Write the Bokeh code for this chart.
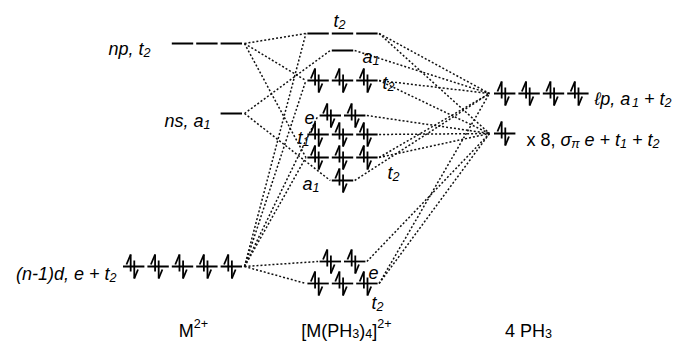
from bokeh.plotting import figure
from bokeh.models import Range1d, ColumnDataSource
from bokeh.embed import file_html
from bokeh.resources import INLINE
from bokeh.core.properties import value

# ---------------- data (energies on the diagram's vertical scale, larger = lower) -------------
left_names = ["np", "ns", "d"]
left_energy = [43, 113, 266]
left_degen = [3, 1, 5]
left_filled = [False, False, True]

mid_names = ["t2a", "a1a", "t2n", "e", "t1", "t2b", "a1b", "ed", "t2d"]
mid_energy = [33, 50, 80, 115, 134, 157, 180, 261, 283]
mid_degen = [3, 1, 3, 2, 3, 3, 1, 2, 3]
mid_filled = [False, False, True, True, True, True, True, True, True]

right_names = ["lp", "spi"]
right_energy = [93, 133]
right_degen = [4, 1]
right_filled = [True, True]

left_links = [("np", "t2a"), ("np", "t2n"), ("np", "t2b"),
              ("ns", "a1a"), ("ns", "a1b"),
              ("d", "t2a"), ("d", "t2n"), ("d", "e"), ("d", "t2b"), ("d", "ed"), ("d", "t2d")]
right_links = [("t2a", "lp"), ("t2a", "spi"), ("a1a", "lp"), ("t2n", "lp"), ("t2n", "spi"),
               ("e", "spi"), ("t1", "spi"), ("t2b", "lp"), ("t2b", "spi"), ("a1b", "lp"),
               ("ed", "spi"), ("t2d", "lp"), ("t2d", "spi")]

# ---------------- layout ----------------
ORB_W = 24.4
GAP = 3.0
LEFT_RIGHT_EDGE = 243.0
MID_CENTER = 342.0
RIGHT_LEFT_EDGE = 492.0
PW, PH = 672, 341

p = figure(width=PW, height=PH, x_range=Range1d(0, PW), y_range=Range1d(PH, 0),
           output_backend="svg", toolbar_location=None, min_border=0,
           x_axis_type=None, y_axis_type=None)
p.grid.visible = False
p.outline_line_color = None
p.background_fill_color = "white"
p.border_fill_color = "white"

ends = {}
lev_x0, lev_x1, lev_y = [], [], []
arr = dict(x0=[], y0=[], x1=[], y1=[])


def add_levels(names, energies, degens, filled, align):
    for n, e, g, f in zip(names, energies, degens, filled):
        w = g * ORB_W
        if align == "right":
            start = LEFT_RIGHT_EDGE - w
        elif align == "center":
            start = MID_CENTER - w / 2
        else:
            start = RIGHT_LEFT_EDGE
        ends[n] = (start, start + w, e)
        for i in range(g):
            a = start + i * ORB_W + GAP / 2
            b = start + (i + 1) * ORB_W - GAP / 2
            lev_x0.append(a); lev_x1.append(b); lev_y.append(e)
            if f:
                cx = start + i * ORB_W + 0.45 * ORB_W
                segs = [
                    (cx - 1.8, e + 5, cx - 1.8, e - 12),
                    (cx - 1.8, e - 12, cx - 6, e - 2),
                    (cx + 1.8, e - 6, cx + 1.8, e + 12),
                    (cx + 1.8, e + 12, cx + 5.5, e + 3),
                ]
                for s in segs:
                    arr["x0"].append(s[0]); arr["y0"].append(s[1])
                    arr["x1"].append(s[2]); arr["y1"].append(s[3])


add_levels(left_names, left_energy, left_degen, left_filled, "right")
add_levels(mid_names, mid_energy, mid_degen, mid_filled, "center")
add_levels(right_names, right_energy, right_degen, right_filled, "left")

# correlation lines
lk = dict(x0=[], y0=[], x1=[], y1=[])
for a, b in left_links:
    lk["x0"].append(ends[a][1] + 1); lk["y0"].append(ends[a][2])
    lk["x1"].append(ends[b][0]); lk["y1"].append(ends[b][2])
for a, b in right_links:
    lk["x0"].append(ends[a][1]); lk["y0"].append(ends[a][2])
    lk["x1"].append(ends[b][0] - 3); lk["y1"].append(ends[b][2])

p.segment("x0", "y0", "x1", "y1", source=ColumnDataSource(lk), line_color="#111111",
          line_width=1.5, line_dash="2 2")
p.segment(lev_x0, lev_y, lev_x1, lev_y, line_color="black", line_width=1.8)
p.segment("x0", "y0", "x1", "y1", source=ColumnDataSource(arr), line_color="black", line_width=1.8)

# ---------------- labels ----------------
WID = {' ': 278, ',': 278, '(': 333, ')': 333, '-': 333, '+': 584, '[': 278, ']': 278,
       'a': 556, 'd': 556, 'e': 556, 'n': 556, 'p': 556, 's': 500, 't': 278, 'x': 500,
       'M': 833, 'P': 667, 'H': 722, 'ℓ': 420, 'σ': 600, 'π': 640}
FS = 18.0
txt = dict(x=[], y=[], text=[], size=[], style=[])


def label(x, y, runs, anchor="left", fs=FS, sub_dy=4):
    items = []
    total = 0.0
    for t, kind, it in runs:
        s = fs if kind == "n" else fs * 0.7
        w = sum(WID.get(c, 556) for c in t) / 1000 * s
        items.append((t, kind, it, s, w))
        total += w
    if anchor == "right":
        x -= total
    elif anchor == "center":
        x -= total / 2
    for t, kind, it, s, w in items:
        dy = 0 if kind == "n" else (sub_dy if kind == "b" else -7)
        lead = len(t) - len(t.lstrip(" "))
        xs = x + lead * WID[' '] / 1000 * s
        body = t.strip(" ")
        if body:
            txt["x"].append(xs); txt["y"].append(y + dy); txt["text"].append(body)
            txt["size"].append("%.1fpx" % s); txt["style"].append("italic" if it else "normal")
        x += w


I = True
label(150, 48, [("np, t", "n", I), ("2", "b", I)], "right")
label(210, 120, [("ns, a", "n", I), ("1", "b", I)], "right")
label(116, 273, [("(n-1)d, e + t", "n", I), ("2", "b", I)], "right")
label(193, 330, [("M", "n", False), ("2+", "p", False)], "center")
label(346, 330, [("[M(PH", "n", False), ("3", "b", False), (")", "n", False), ("4", "b", False),
                 ("]", "n", False), ("2+", "p", False)], "center", sub_dy=3)
label(528, 330, [("4 PH", "n", False), ("3", "b", False)], "center", sub_dy=3)

label(333, 20, [("t", "n", I), ("2", "b", I)])
label(362, 56, [("a", "n", I), ("1", "b", I)])
label(382, 82, [("t", "n", I), ("2", "b", I)])
label(304, 117, [("e", "n", I)])
label(297, 137, [("t", "n", I), ("1", "b", I)])
label(387, 172, [("t", "n", I), ("2", "b", I)])
label(302, 183, [("a", "n", I), ("1", "b", I)])
label(368, 272, [("e", "n", I)])
label(371, 302, [("t", "n", I), ("2", "b", I)])

label(594, 98, [("ℓp, a", "n", I), ("1", "b", I), (" + t", "n", I), ("2", "b", I)])
label(526, 139, [("x 8, ", "n", False), ("σ", "n", I), ("π", "b", I), (" e + t", "n", I),
                 ("1", "b", I), (" + t", "n", I), ("2", "b", I)])

p.text("x", "y", text="text", source=ColumnDataSource(txt), text_font=value("Liberation Sans"),
       text_font_size="size", text_font_style="style", text_baseline="alphabetic",
       text_align="left", text_color="black")

open("out.html", "w").write(file_html(p, INLINE))
